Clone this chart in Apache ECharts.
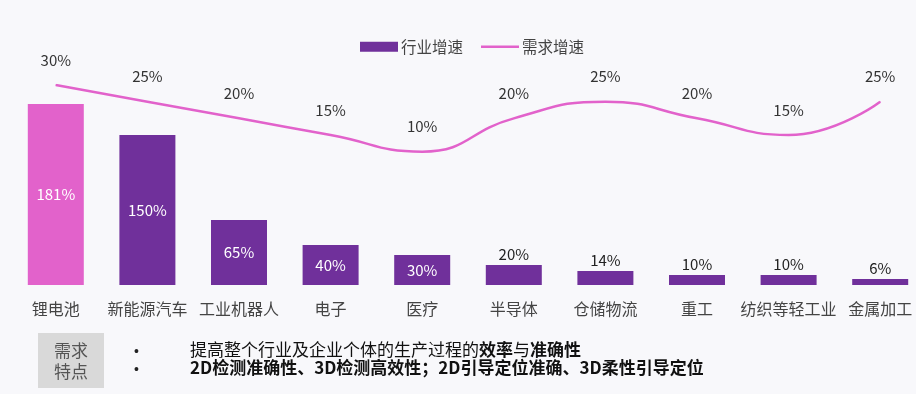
<!DOCTYPE html>
<html><head><meta charset="utf-8">
<script src="https://cdn.jsdelivr.net/npm/echarts@6/dist/echarts.min.js"></script>
<style>html,body{margin:0;padding:0;background:#f8f8fb;}#c{width:916px;height:394px;}</style>
</head><body><div id="c"></div>
<script>
const categories = ['锂电池','新能源汽车','工业机器人','电子','医疗','半导体','仓储物流','重工','纺织等轻工业','金属加工'];
const industryGrowth = [181,150,65,40,30,20,14,10,10,6];
const demandGrowth = [30,25,20,15,10,20,25,20,15,25];
const seriesNames = ['行业增速','需求增速'];
const boxTitle = ['需求','特点'];
const bullet1 = [['提高整个行业及企业个体的生产过程的', false], ['效率', true], ['与', false], ['准确性', true]];
const bullet2 = '2D检测准确性、3D检测高效性；2D引导定位准确、3D柔性引导定位';

const PURPLE = '#70309b', PINK = '#e262cb';
const FONT = '"Noto Sans CJK SC","Noto Sans",sans-serif';
const barData = industryGrowth.map((v, i) => {
  const d = { value: v };
  if (i === 0) d.itemStyle = { color: PINK };
  d.label = v >= 30
    ? { position: 'inside', color: '#fff' }
    : { position: 'top', color: '#222', distance: 3 };
  return d;
});

const chart = echarts.init(document.getElementById('c'));
chart.setOption({
  backgroundColor: '#f8f8fb',
  textStyle: { fontFamily: FONT },
  legend: {
    top: 39, left: 360, padding: 0, itemGap: 18, itemWidth: 38, itemHeight: 10,
    textStyle: { fontSize: 15.5, color: '#444', padding: [0, 0, 0, -2] },
    data: [
      { name: seriesNames[0], icon: 'rect' },
      { name: seriesNames[1], icon: 'path://M0,0 L38,0 L38,2.6 L0,2.6 Z' }
    ]
  },
  grid: { left: 10, width: 916, top: 85, bottom: 109, outerBoundsMode: 'none', containLabel: false },
  xAxis: {
    type: 'category', data: categories,
    axisLine: { show: false }, axisTick: { show: false },
    axisLabel: { fontSize: 16, color: '#444', margin: 16, interval: 0 }
  },
  yAxis: [
    { type: 'value', min: 0, max: 200, show: false, splitLine: { show: false } },
    { type: 'value', min: -30, max: 30, show: false, splitLine: { show: false } }
  ],
  series: [
    {
      name: seriesNames[0], type: 'bar', data: barData, barWidth: 56,
      itemStyle: { color: PURPLE },
      label: { show: true, formatter: '{c}%', fontSize: 15 }
    },
    {
      name: seriesNames[1], type: 'line', yAxisIndex: 1, data: demandGrowth,
      smooth: 0.5, symbol: 'circle', symbolSize: 1,
      lineStyle: { color: PINK, width: 2.5 }, itemStyle: { color: PINK },
      label: { show: true, position: 'top', distance: 17, formatter: '{c}%', fontSize: 15, color: '#333' }
    }
  ],
  graphic: [
    { type: 'rect', left: 38, top: 333, shape: { width: 66, height: 55 }, style: { fill: '#d9d9d9' } },
    { type: 'text', left: 54, top: 340, style: { text: boxTitle.join('\n'), fontSize: 17, lineHeight: 21, fill: '#555', fontFamily: FONT } },
    { type: 'text', left: 134, top: 343, style: { text: '•\n•', fontSize: 14, lineHeight: 18, fill: '#222' } },
    { type: 'text', left: 190, top: 341, style: {
        text: bullet1.map(p => p[1] ? '{b|' + p[0] + '}' : '{n|' + p[0] + '}').join(''),
        rich: {
          n: { fontSize: 17, fontWeight: 'normal', fill: '#111', fontFamily: FONT },
          b: { fontSize: 17, fontWeight: 'bold', fill: '#111', fontFamily: FONT }
        }
      } },
    { type: 'text', left: 190, top: 359, style: { text: bullet2, fontSize: 17, fontWeight: 'bold', fill: '#111', fontFamily: FONT } }
  ]
});
</script></body></html>
